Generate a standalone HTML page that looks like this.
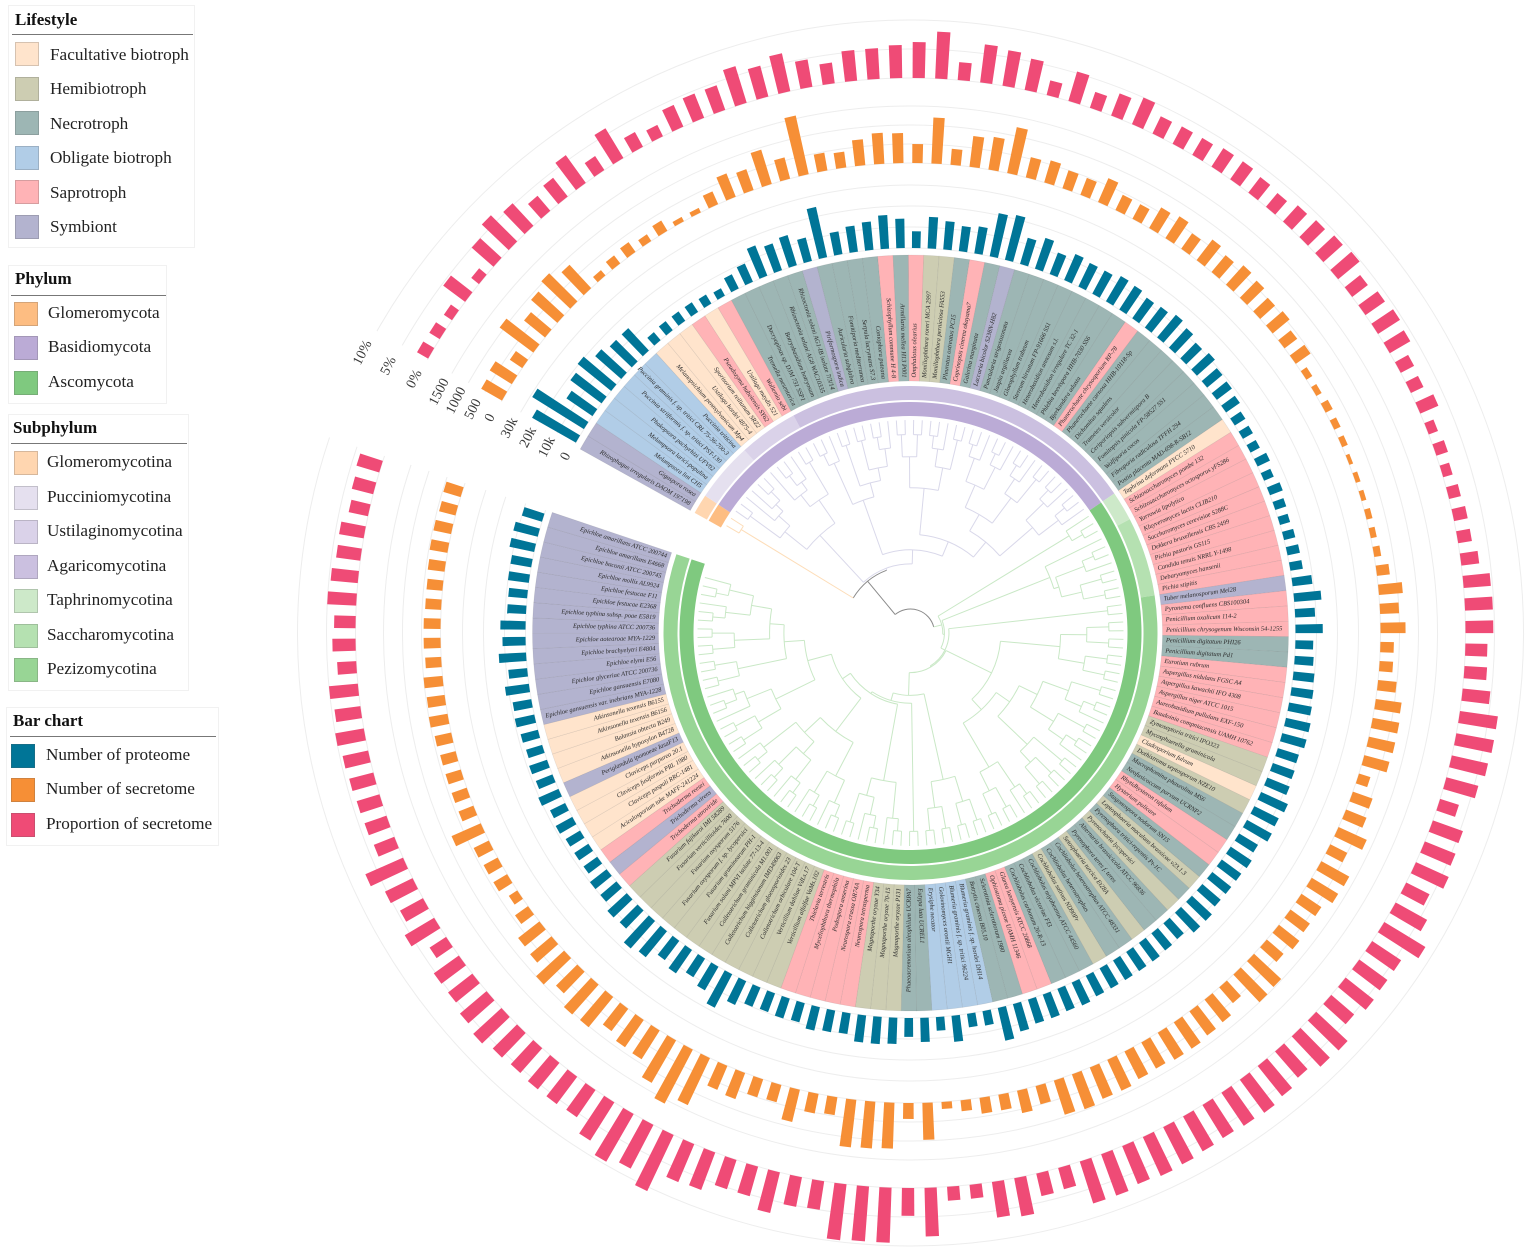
<!DOCTYPE html>
<html>
<head>
<meta charset="utf-8">
<title>Circular phylogeny of fungal secretomes</title>
<style>
html,body{margin:0;padding:0;background:#fff;width:1535px;height:1257px;overflow:hidden}
body{position:relative;font-family:"Liberation Serif",serif;color:#222}
.legend{position:absolute;border:1px solid #f1f1f1;box-sizing:border-box}
.legend .ttl{position:absolute;font-weight:bold;font-size:17px;line-height:18px;color:#111}
.legend .rule{position:absolute;height:1px;background:#777}
.legend .sw{position:absolute;width:24px;height:24px;box-sizing:border-box;border:1px solid rgba(90,90,90,.25)}
.legend .lb{position:absolute;font-size:17.2px;line-height:20px;white-space:nowrap;color:#222}
#chart{position:absolute;left:0;top:0}
</style>
</head>
<body>
<svg id="chart" width="1535" height="1257" viewBox="0 0 1535 1257" xmlns="http://www.w3.org/2000/svg"></svg>

<div class="legend" style="left:8px;top:5px;width:187px;height:243px">
  <div class="ttl" style="left:6px;top:5px">Lifestyle</div>
  <div class="rule" style="left:3px;top:28px;width:181px"></div>
  <div class="sw" style="left:6px;top:36px;background:#FFE4CC"></div><div class="lb" style="left:41px;top:39px">Facultative biotroph</div>
  <div class="sw" style="left:6px;top:71px;background:#CDCDB2"></div><div class="lb" style="left:41px;top:73px">Hemibiotroph</div>
  <div class="sw" style="left:6px;top:105px;background:#9DB6B4"></div><div class="lb" style="left:41px;top:108px">Necrotroph</div>
  <div class="sw" style="left:6px;top:140px;background:#B1CDE7"></div><div class="lb" style="left:41px;top:142px">Obligate biotroph</div>
  <div class="sw" style="left:6px;top:174px;background:#FFB3B6"></div><div class="lb" style="left:41px;top:177px">Saprotroph</div>
  <div class="sw" style="left:6px;top:209px;background:#B3B3CF"></div><div class="lb" style="left:41px;top:211px">Symbiont</div>
</div>

<div class="legend" style="left:8px;top:265px;width:159px;height:139px">
  <div class="ttl" style="left:6px;top:4px">Phylum</div>
  <div class="rule" style="left:2px;top:29px;width:155px"></div>
  <div class="sw" style="left:5px;top:36px;background:#FDBD82"></div><div class="lb" style="left:39px;top:37px">Glomeromycota</div>
  <div class="sw" style="left:5px;top:70px;background:#BBABD6"></div><div class="lb" style="left:39px;top:71px">Basidiomycota</div>
  <div class="sw" style="left:5px;top:105px;background:#7FC97F"></div><div class="lb" style="left:39px;top:106px">Ascomycota</div>
</div>

<div class="legend" style="left:8px;top:414px;width:181px;height:277px">
  <div class="ttl" style="left:4px;top:4px">Subphylum</div>
  <div class="rule" style="left:2px;top:28px;width:176px"></div>
  <div class="sw" style="left:5px;top:36px;background:#FFD6B0"></div><div class="lb" style="left:38px;top:37px">Glomeromycotina</div>
  <div class="sw" style="left:5px;top:71px;background:#E5E0EF"></div><div class="lb" style="left:38px;top:72px">Pucciniomycotina</div>
  <div class="sw" style="left:5px;top:105px;background:#DAD2E9"></div><div class="lb" style="left:38px;top:106px">Ustilaginomycotina</div>
  <div class="sw" style="left:5px;top:140px;background:#CBC0E0"></div><div class="lb" style="left:38px;top:141px">Agaricomycotina</div>
  <div class="sw" style="left:5px;top:174px;background:#CDE9C9"></div><div class="lb" style="left:38px;top:175px">Taphrinomycotina</div>
  <div class="sw" style="left:5px;top:209px;background:#B5E1B1"></div><div class="lb" style="left:38px;top:210px">Saccharomycotina</div>
  <div class="sw" style="left:5px;top:243px;background:#98D595"></div><div class="lb" style="left:38px;top:244px">Pezizomycotina</div>
</div>

<div class="legend" style="left:6px;top:707px;width:213px;height:139px">
  <div class="ttl" style="left:6px;top:4px">Bar chart</div>
  <div class="rule" style="left:3px;top:28px;width:206px"></div>
  <div class="sw" style="left:4px;top:36px;background:#007597"></div><div class="lb" style="left:39px;top:37px">Number of proteome</div>
  <div class="sw" style="left:4px;top:70px;background:#F68F36"></div><div class="lb" style="left:39px;top:71px">Number of secretome</div>
  <div class="sw" style="left:4px;top:105px;background:#EF4B76"></div><div class="lb" style="left:39px;top:106px">Proportion of secretome</div>
</div>

<script>
var taxa = ["Rhizophagus irregularis DAOM 197198","Gigaspora rosea","Melampsora lini CH5","Melampsora larici-populina","Phakopsora pachyrhizi UFV02","Puccinia striiformis f. sp. tritici PST-130","Puccinia graminis f. sp. tritici CRL 75-36-700-3","Puccinia triticina","Melanopsichium pennsylvanicum Mp4","Ustilago hordei 4875-4","Sporisorium reilianum SRZ2","Pseudozyma hubeiensis SY62","Ustilago maydis 521","Wallemia sebi","Tremella mesenterica","Dacryopinax sp. DJM 731 SSP1","Botryobasidium botryosum","Rhizoctonia solani AG8 WAC10335","Rhizoctonia solani AG1-IB isolate 7/3/14","Piriformospora indica","Auricularia subglabra","Fomitiporia mediterranea","Serpula lacrymans S7.3","Coniophora puteana","Schizophyllum commune H 4-8","Armillaria mellea H13 P001","Omphalotus olearius","Moniliophthora roreri MCA 2997","Moniliophthora perniciosa FA553","Pleurotus ostreatus PC15","Coprinopsis cinerea okayama7","Galerina marginata","Laccaria bicolor S238N-H82","Punctularia strigosozonata","Jaapia argillacea","Gloeophyllum trabeum","Stereum hirsutum FP-91666 SS1","Heterobasidion annosum s.l.","Heterobasidion irregulare TC 32-1","Phlebia brevispora HHB-7030 SS6","Bjerkandera adusta","Phanerochaete chrysosporium RP-78","Phanerochaete carnosa HHB-10118-Sp","Dichomitus squalens","Trametes versicolor","Ceriporiopsis subvermispora B","Fomitopsis pinicola FP-58527 SS1","Wolfiporia cocos","Fibroporia radiculosa TFFH 294","Postia placenta MAD-698-R-SB12","Taphrina deformans PYCC 5710","Schizosaccharomyces pombe 132","Schizosaccharomyces octosporus yFS286","Yarrowia lipolytica","Kluyveromyces lactis CLIB210","Saccharomyces cerevisiae S288C","Dekkera bruxellensis CBS 2499","Pichia pastoris GS115","Candida tenuis NRRL Y-1498","Debaryomyces hansenii","Pichia stipitis","Tuber melanosporum Mel28","Pyronema confluens CBS100304","Penicillium oxalicum 114-2","Penicillium chrysogenum Wisconsin 54-1255","Penicillium digitatum PHI26","Penicillium digitatum Pd1","Eurotium rubrum","Aspergillus nidulans FGSC A4","Aspergillus kawachii IFO 4308","Aspergillus niger ATCC 1015","Aureobasidium pullulans EXF-150","Baudoinia compniacensis UAMH 10762","Zymoseptoria tritici IPO323","Mycosphaerella graminicola","Cladosporium fulvum","Dothistroma septosporum NZE10","Macrophomina phaseolina MS6","Neofusicoccum parvum UCRNP2","Rhytidhysteron rufulum","Hysterium pulicare","Stagonospora nodorum SN15","Leptosphaeria maculans brassicae v23.1.3","Pyrenophora tritici-repentis Pt-1C","Pyrenochaeta lycopersici","Alternaria brassicicola ATCC 96836","Pyrenophora teres f. teres","Setosphaeria turcica Et28A","Cochliobolus heterostrophus ATCC 48331","Cochliobolus heterostrophus","Cochliobolus sativus ND90Pr","Cochliobolus miyabeanus ATCC 44560","Cochliobolus victoriae FI3","Cochliobolus carbonum 26-R-13","Glarea lozoyensis ATCC 20868","Ophiostoma piceae UAMH 11346","Sclerotinia sclerotiorum 1980","Botrytis cinerea B05.10","Blumeria graminis f. sp. hordei DH14","Blumeria graminis f. sp. tritici 96224","Golovinomyces orontii MGH1","Erysiphe necator","Eutypa lata UCREL1","Phaeoacremonium aleophilum UCRPA7","Magnaporthe oryzae P131","Magnaporthe oryzae 70-15","Magnaporthe oryzae Y34","Neurospora tetrasperma","Neurospora crassa OR74A","Podospora anserina","Myceliophthora thermophila","Thielavia terrestris","Verticillium alfalfae VaMs.102","Verticillium dahliae VdLs.17","Colletotrichum orbiculare 104-T","Colletotrichum gloeosporioides 23","Colletotrichum higginsianum IMI349063","Colletotrichum graminicola M1.001","Fusarium solani MPVI isolate 77-13-4","Fusarium graminearum PH-1","Fusarium oxysporum f. sp. lycopersici","Fusarium oxysporum 5176","Fusarium verticillioides 7600","Fusarium fujikuroi IMI 58289","Trichoderma atroviride","Trichoderma virens","Trichoderma reesei","Aciculosporium take MAFF-241224","Claviceps paspali RRC-1481","Claviceps fusiformis PRL 1980","Claviceps purpurea 20.1","Periglandula ipomoeae IasaF13","Atkinsonella hypoxylon B4728","Balansia obtecta B249","Atkinsonella texensis B6156","Atkinsonella texensis B6155","Epichloe gansuensis var. inebrians MYA-1228","Epichloe gansuensis E7080","Epichloe glyceriae ATCC 200736","Epichloe elymi E56","Epichloe brachyelytri E4804","Epichloe aotearoae MYA-1229","Epichloe typhina ATCC 200736","Epichloe typhina subsp. poae E5819","Epichloe festucae E2368","Epichloe festucae F11","Epichloe mollis AL9924","Epichloe baconii ATCC 200745","Epichloe amarillans E4668","Epichloe amarillans ATCC 200744"];

var lifestyleRuns = ["Y",2,"O",6,"F",3,"S",1,"F",1,"S",1,"N",5,"Y",1,"N",4,"S",1,"N",1,"S",1,"H",2,"N",1,"S",1,"N",1,"Y",1,"N",8,"S",1,"N",8,"F",1,"S",10,"Y",1,"S",3,"N",2,"S",6,"H",2,"F",1,"H",1,"N",2,"S",2,"N",1,"H",1,"N",1,"H",1,"N",2,"H",1,"N",2,"H",1,"N",3,"S",2,"N",2,"O",4,"N",2,"H",3,"S",5,"H",12,"S",1,"Y",1,"S",1,"F",4,"Y",1,"F",4,"Y",14];

var subphylumNames = ["Glomeromycotina","Pucciniomycotina","Ustilaginomycotina","Agaricomycotina","Taphrinomycotina","Saccharomycotina","Pezizomycotina"];
var subphylumCounts = [2,6,6,36,3,8,89];
var phylumNames = ["Glomeromycota","Basidiomycota","Ascomycota"];
var phylumCounts = [2,48,100];

/* thousands of proteins */
var proteome = [24,29,15,18.5,20.5,16.5,14.5,14.5,5,5.5,5.5,5.5,5,4,7.5,9.5,15.5,13.5,15,11.5,24.5,11,12.5,13.5,16,14,8,15,13.5,12,13,21,22,13,15.5,11,13.5,12.5,12.5,14,13.5,12,12.5,14,12.5,10.5,11.5,9.5,9,8,6,5.5,5,6.5,5,6.5,5.5,5,5.5,6,6,9.5,13,9.5,13,8.5,9,10,10.5,11,12,12,10.5,11,11.5,14,13,13.5,10.5,12,11.5,11.5,11.5,13,13,10,10.5,11,11,11,11,11,12,11.5,12,12,13.5,16,7,6.5,12.5,6.5,11.5,9,12.5,13,13,10,10.5,11.5,9.5,10,9.5,10,12.5,18,13,10.5,13.5,11.5,16,17.5,12,12.5,10,10,8,8,8,9,8,10.5,8.5,9,8,8.5,9.5,9,11.5,9,13,11,12,9,9,10,10,12,12,10];

var secretome = [630,685,395,1105,710,920,1050,840,185,265,315,210,315,130,130,370,660,580,945,580,1580,475,420,685,815,790,500,1210,420,815,870,1235,550,605,500,475,685,445,435,630,685,500,685,580,685,630,525,580,420,475,185,160,210,185,160,105,130,130,160,160,185,340,630,500,660,355,355,490,685,710,710,685,315,550,580,815,500,840,815,630,630,685,580,975,1000,550,760,790,840,840,790,815,895,895,975,945,500,605,420,420,290,185,975,420,1210,1235,1260,475,525,870,475,500,735,685,1370,1605,1290,895,870,735,1025,1050,790,1000,735,710,420,265,420,420,445,840,420,420,420,420,445,500,475,500,420,445,445,420,420,445,475,475,445,475];

var proportion = [2.2,2.1,1.7,4.7,1.7,5.0,6.4,5.3,3.4,4.1,5.9,2.9,6.0,2.9,2.2,4.1,4.5,4.5,6.6,5.5,6.7,4.8,3.6,5.3,5.3,5.7,6.2,8.1,3.1,6.6,6.2,5.5,2.6,5.3,2.9,4.1,5.0,3.3,3.4,3.4,3.8,3.8,3.4,3.1,3.8,4.1,4.5,4.8,3.4,4.1,4.5,4.1,2.6,2.4,3.4,1.7,2.1,1.7,2.1,2.4,2.4,3.1,4.7,4.8,4.8,3.8,3.9,4.8,6.6,6.6,6.4,5.7,3.4,5.5,5.7,6.2,4.5,6.2,8.3,6.0,6.0,6.2,5.2,7.4,7.2,6.0,6.7,7.1,6.9,6.7,6.9,7.2,7.4,7.1,7.6,7.6,3.8,4.0,6.7,6.2,2.4,2.4,8.4,4.8,9.5,9.5,9.7,5.0,5.2,7.2,5.3,5.3,6.9,7.1,10.7,8.5,9.5,7.8,5.7,5.9,5.9,5.7,5.9,6.6,6.0,5.3,5.3,3.4,5.9,4.5,5.3,7.1,3.8,4.0,4.1,4.3,4.5,5.0,4.5,5.0,3.3,4.0,3.7,5.0,4.7,4.2,4.3,3.4,3.8,4.1];

var proteomeTicks = [0,10,20,30];
var proteomeTickLabels = ["0","10k","20k","30k"];
var secretomeTicks = [0,500,1000,1500];
var secretomeTickLabels = ["0","500","1000","1500"];
var proportionTicks = [0,5,10];
var proportionTickLabels = ["0%","5%","10%"];

/* branching topology only: a number n is a balanced clade of n tips */
var cladePuccinio = [2, [1, [1, 2]]];
var cladeUstilago = [[1, [2, 1]], [1, 1]];
var cladeAgaricoA = [3, [2, [2, 3]]];
var cladeAgaricoB = [[4, 5], [[6, 5], [3, 3]]];
var cladeBasidio = [[cladePuccinio, cladeUstilago], [cladeAgaricoA, cladeAgaricoB]];
var cladeTaphrino = [1, 2];
var cladeSaccharo = [1, [3, 4]];
var cladeDothideo = [[[[2, 3], [2, 3]], [2, [2, 2]]], [3, [2, 2]]];
var cladeLeotio = [[2, 2], [2, 2]];
var cladeSordarioA = [3, 5];
var cladeSordarioB = [6, [6, 3]];
var cladeClaviceps = [[4, [1, [2, 1]]], [4, [4, 6]]];
var cladeSordario = [2, [cladeSordarioA, [cladeSordarioB, cladeClaviceps]]];
var cladePezizo = [2, [[8, cladeDothideo], [cladeLeotio, cladeSordario]]];
var cladeAsco = [cladeTaphrino, [cladeSaccharo, cladePezizo]];
var treeShape = [[2, cladeBasidio], cladeAsco];

var lifestyleColors = {F:"#FFE4CC",H:"#CDCDB2",N:"#9DB6B4",O:"#B1CDE7",S:"#FFB3B6",Y:"#B3B3CF"};
var subphylumColors = {Glomeromycotina:"#FFD6B0",Pucciniomycotina:"#E5E0EF",Ustilaginomycotina:"#DAD2E9",Agaricomycotina:"#CBC0E0",Taphrinomycotina:"#CDE9C9",Saccharomycotina:"#B5E1B1",Pezizomycotina:"#98D595"};
var phylumColors = {Glomeromycota:"#FDBD82",Basidiomycota:"#BBABD6",Ascomycota:"#7FC97F"};

var CX = 910.5, CY = 633;
var START = 299.1, STEP = 2.33, END = START + 150 * STEP;
var AXIS_ANGLE = 297.1;
var NS = "http://www.w3.org/2000/svg";
var svg = document.getElementById("chart");

function mk(tag, attrs, parent) {
  var e = document.createElementNS(NS, tag);
  for (var k in attrs) e.setAttribute(k, attrs[k]);
  (parent || svg).appendChild(e);
  return e;
}
function angleOf(i) { return START + (i + 0.5) * STEP; }
function pt(r, deg) {
  var a = deg * Math.PI / 180;
  return [CX + r * Math.sin(a), CY - r * Math.cos(a)];
}
function fmt(p) { return p[0].toFixed(2) + " " + p[1].toFixed(2); }
function arcPath(r, a0, a1) {
  var large = (a1 - a0) > 180 ? 1 : 0;
  return "M" + fmt(pt(r, a0)) + " A" + r + " " + r + " 0 " + large + " 1 " + fmt(pt(r, a1));
}
function wedge(r0, r1, a0, a1) {
  var large = (a1 - a0) > 180 ? 1 : 0;
  return "M" + fmt(pt(r0, a0)) + " A" + r0 + " " + r0 + " 0 " + large + " 1 " + fmt(pt(r0, a1)) +
         " L" + fmt(pt(r1, a1)) + " A" + r1 + " " + r1 + " 0 " + large + " 0 " + fmt(pt(r1, a0)) + " Z";
}

/* axis scales */
function proteomeR(v) { return 385 + v * 2.1; }
function secretomeR(v) { return 470 + v * 0.038; }
function proportionR(v) { return 555 + v * 5.8; }

/* lifestyle per taxon */
var lifestyle = [];
for (var q = 0; q < lifestyleRuns.length; q += 2) {
  for (var w = 0; w < lifestyleRuns[q + 1]; w++) lifestyle.push(lifestyleRuns[q]);
}

/* gridlines and axis labels */
function drawAxis(ticks, labels, scale, nameBase) {
  ticks.forEach(function (t, i) {
    var g = mk("path", {d: arcPath(scale(t), START + 0.4, END), fill: "none", stroke: "#ededed", "stroke-width": 1});
    
    
    var p = pt(scale(t) + 2, AXIS_ANGLE);
    var tx = mk("text", {
      x: p[0], y: p[1], "text-anchor": "middle", "dominant-baseline": "central",
      "font-family": '"Liberation Serif", serif', "font-size": 14, fill: "#3a3a3a",
      transform: "rotate(" + (AXIS_ANGLE - 360) + " " + p[0] + " " + p[1] + ")"
    });
    tx.textContent = labels[i];
    
    
  });
}
drawAxis(proteomeTicks, proteomeTickLabels, proteomeR, "proteome");
drawAxis(secretomeTicks, secretomeTickLabels, secretomeR, "secretome");
drawAxis(proportionTicks, proportionTickLabels, proportionR, "proportion");

/* tree */
var tipR = 213;
function nodeR(leaves) {
  return 213 - 14.6 * Math.pow(Math.log(leaves) / Math.LN2, 1.33);
}
var leafCursor = 0;
function expandShape(s) {
  if (typeof s === "number") {
    if (s === 1) return null;
    return [expandShape(Math.ceil(s / 2)), expandShape(Math.floor(s / 2))];
  }
  return s.map(function (c) { return expandShape(c); });
}
function treeColor(a, b) {
  if (b <= 2) return "#FDDDB8";
  if (a >= 2 && b <= 50) return "#D9D8EA";
  if (a >= 50) return "#C9E8C6";
  return "#8a8a8a";
}
var treeGroup = mk("g", {fill: "none", "stroke-width": 1});


function layoutTree(node) {
  if (node === null) {
    var i = leafCursor++;
    return {a: angleOf(i), r: tipR, lo: i, hi: i + 1};
  }
  var kids = node.map(function (c) { return layoutTree(c); });
  var lo = kids[0].lo, hi = kids[kids.length - 1].hi;
  return {a: (kids[0].a + kids[kids.length - 1].a) / 2, r: nodeR(hi - lo), lo: lo, hi: hi, kids: kids};
}
function drawTree(node, isRoot) {
  if (!node.kids) return;
  var col = treeColor(node.lo, node.hi);
  var first = node.kids[0], last = node.kids[node.kids.length - 1];
  var rr = isRoot ? 24 : node.r;
  mk("path", {d: arcPath(rr, first.a, last.a), stroke: isRoot ? "#8a8a8a" : col}, treeGroup);
  node.kids.forEach(function (k) {
    var p0 = pt(rr, k.a), p1 = pt(k.r, k.a);
    mk("line", {x1: p0[0], y1: p0[1], x2: p1[0], y2: p1[1], stroke: treeColor(k.lo, k.hi)}, treeGroup);
    drawTree(k, false);
  });
}
drawTree(layoutTree(expandShape(treeShape)), true);

/* taxonomy rings */
function drawRing(names, counts, colors, r0, r1, nameBase) {
  var c = 0;
  names.forEach(function (nm, i) {
    var p = mk("path", {d: wedge(r0, r1, START + c * STEP, START + (c + counts[i]) * STEP), fill: colors[nm]});
    
    
    c += counts[i];
  });
}
drawRing(phylumNames, phylumCounts, phylumColors, 217, 231, "phylum-ring");
drawRing(subphylumNames, subphylumCounts, subphylumColors, 233, 247, "subphylum-ring");

/* lifestyle sectors and taxon labels */
taxa.forEach(function (label, i) {
  var a0 = START + i * STEP, a1 = a0 + STEP;
  var s = mk("path", {d: wedge(252, 378, a0, a1), fill: lifestyleColors[lifestyle[i]], stroke: "rgba(80,80,80,.13)", "stroke-width": 0.6});
  
  
});
taxa.forEach(function (label, i) {
  var a = angleOf(i);
  var norm = ((a % 360) + 360) % 360;
  var right = norm < 180;
  var p = pt(255.5, a);
  var rot = right ? norm - 90 : norm + 90;
  var t = mk("text", {
    x: p[0].toFixed(2), y: p[1].toFixed(2), "text-anchor": right ? "start" : "end", "dominant-baseline": "central",
    "font-family": '"Liberation Serif", serif', "font-style": "italic", "font-size": 6.45, fill: "#2b2b2b",
    transform: "rotate(" + rot.toFixed(2) + " " + p[0].toFixed(2) + " " + p[1].toFixed(2) + ")"
  });
  t.textContent = label;
  
  
});

/* bars */
var HALF = 0.63;
function drawBars(values, scale, color, nameBase) {
  values.forEach(function (v, i) {
    var a = angleOf(i), r0 = scale(0), r1 = scale(v);
    var d = "M" + fmt(pt(r0, a - HALF)) + " L" + fmt(pt(r1, a - HALF)) + " L" + fmt(pt(r1, a + HALF)) + " L" + fmt(pt(r0, a + HALF)) + " Z";
    var b = mk("path", {d: d, fill: color});
    
    
  });
}
drawBars(proteome, proteomeR, "#007597", "proteome");
drawBars(secretome, secretomeR, "#F68F36", "secretome");
drawBars(proportion, proportionR, "#EF4B76", "proportion");
</script>
</body>
</html>
